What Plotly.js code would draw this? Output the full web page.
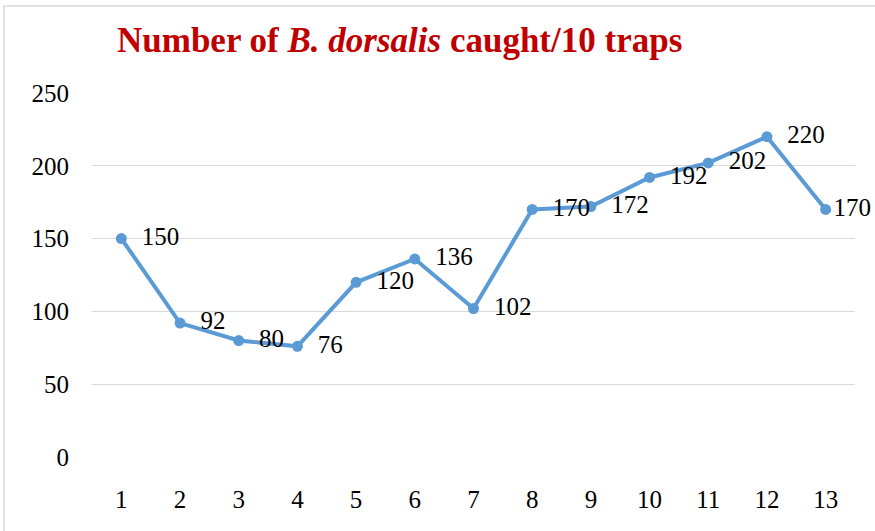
<!DOCTYPE html>
<html>
<head>
<meta charset="utf-8">
<script src="https://cdn.plot.ly/plotly-3.0.1.min.js"></script>
<style>html,body{margin:0;padding:0;background:#fff;}#chart{width:875px;height:531px;}</style>
</head>
<body>
<div id="chart"></div>
<script>
const weeks = [1,2,3,4,5,6,7,8,9,10,11,12,13];
const caught = [150,92,80,76,120,136,102,170,172,192,202,220,170];
const yTicks = [0,50,100,150,200,250];

const SERIF = 'Liberation Serif, Times New Roman, serif';
// label padding: Excel pulls the last label in near the chart edge
const labelText = caught.map((v, i) => (i === caught.length - 1 ? '' : '\u00a0\u00a0') + v);

const trace = {
  x: weeks,
  y: caught,
  type: 'scatter',
  mode: 'lines+markers+text',
  line: {color: '#5B9BD5', width: 4},
  marker: {color: '#5B9BD5', size: 11},
  text: labelText,
  textposition: 'middle right',
  textfont: {family: SERIF, size: 25, color: '#000'},
  cliponaxis: false,
  hoverinfo: 'none'
};

const layout = {
  width: 875, height: 531,
  margin: {l: 92, r: 20, t: 93, b: 74},
  paper_bgcolor: '#fff', plot_bgcolor: '#fff',
  showlegend: false,
  font: {family: SERIF, color: '#000'},
  title: {
    text: 'Number of <i>B. dorsalis</i> caught/10 traps',
    font: {family: SERIF, size: 35, color: '#C00000', weight: 'bold'},
    xref: 'container', yref: 'container',
    x: 117/875, xanchor: 'left',
    y: 1 - 40/531, yanchor: 'middle'
  },
  xaxis: {
    range: [0.5, 13.5],
    tickmode: 'array', tickvals: weeks, ticktext: weeks.map(String),
    showgrid: false, zeroline: false, showline: false,
    ticks: 'outside', ticklen: 20, tickcolor: 'rgba(0,0,0,0)',
    tickfont: {family: SERIF, size: 25, color: '#000'}
  },
  yaxis: {
    range: [0, 250],
    tickmode: 'array', tickvals: yTicks, ticktext: yTicks.map(String),
    showgrid: true, gridcolor: '#D9D9D9', gridwidth: 1.3,
    zeroline: false, showline: false,
    ticks: 'outside', ticklen: 17, tickcolor: 'rgba(0,0,0,0)',
    tickfont: {family: SERIF, size: 25, color: '#000'}
  },
  shapes: [
    {type: 'line', xref: 'paper', yref: 'paper', x0: (4-92)/763, x1: (4-92)/763, y0: (457-6)/364, y1: -0.3, line: {color: '#D9D9D9', width: 1.5}},
    {type: 'line', xref: 'paper', yref: 'paper', x0: (4-92)/763, x1: 1.1, y0: (457-6)/364, y1: (457-6)/364, line: {color: '#D9D9D9', width: 1.5}}
  ]
};

Plotly.newPlot('chart', [trace], layout, {staticPlot: true, displayModeBar: false});
</script>
</body>
</html>
